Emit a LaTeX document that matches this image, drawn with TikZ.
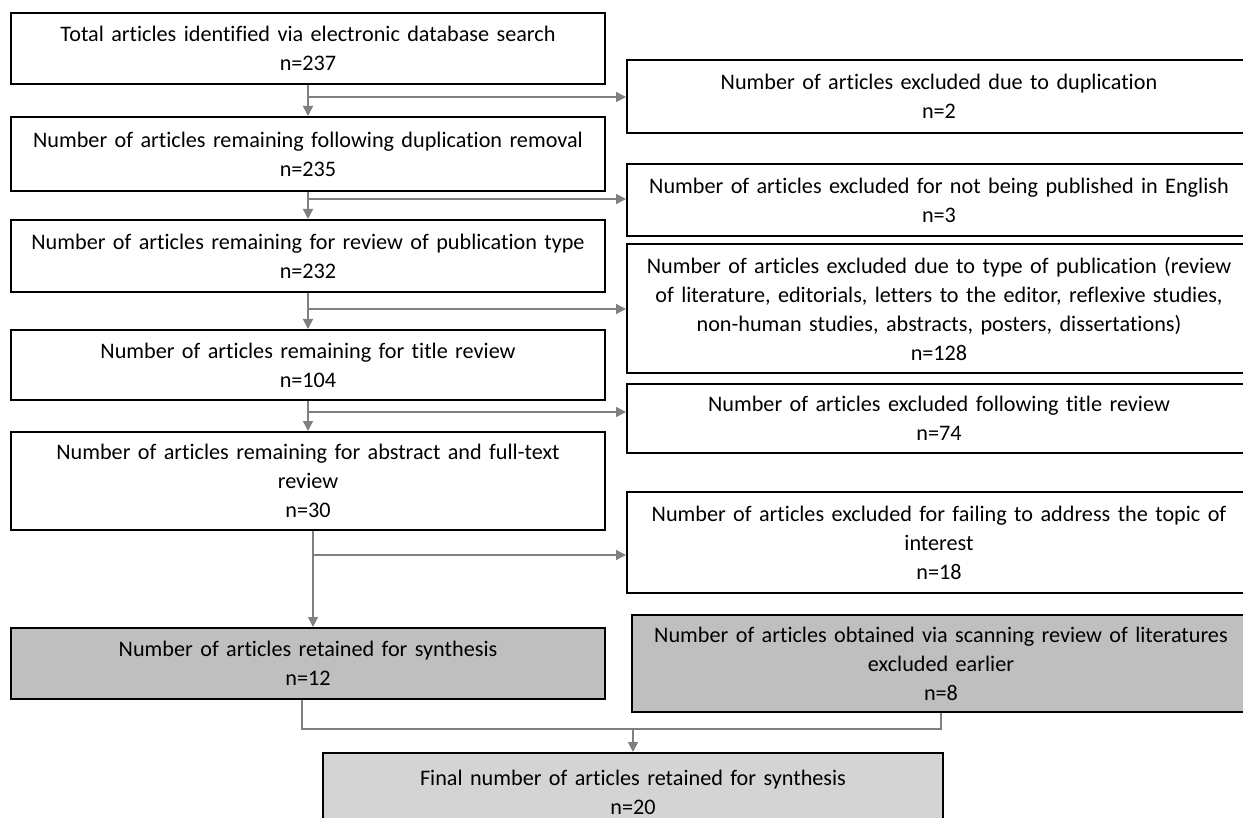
\documentclass[tikz,border=0pt]{standalone}
\usepackage{fontspec}
\setmainfont{Carlito}[Ligatures=NoCommon]
\usetikzlibrary{arrows.meta, positioning}
\definecolor{arrowgray}{RGB}{128,128,128}
\definecolor{darkfill}{RGB}{191,191,191}
\definecolor{lightfill}{RGB}{212,212,212}

\begin{document}
\begin{tikzpicture}[
    x=0.5pt, y=-0.5pt,
    box/.style={
        rectangle,
        draw=black,
        line width=1pt,
        fill=white,
        inner sep=0pt,
        minimum width=297pt,
        text width=290pt,
        align=center,
        font=\fontsize{11.1}{14.5}\selectfont
    },
    sidebox/.style={
        box,
        minimum width=312pt,
        text width=308pt
    },
    line/.style={
        draw,
        -{Triangle[length=5pt,width=5pt]},
        line width=0.75pt,
        color=arrowgray
    },
    link/.style={
        draw,
        line width=0.75pt,
        color=arrowgray
    }
]

\path [use as bounding box] (0,0) rectangle (1243,818);
\clip (0,0) rectangle (1243,818);

% Main column
\node [box, minimum height=35.5pt] (total) at (308,48.5)
    {Total articles identified via electronic database search\\ n=237};
\node [box, minimum height=37pt] (dedup) at (308,154)
    {Number of articles remaining following duplication removal\\ n=235};
\node [box, minimum height=36pt] (pubtype) at (308,256)
    {Number of articles remaining for review of publication type\\ n=232};
\node [box, minimum height=35pt] (title) at (308,365)
    {Number of articles remaining for title review\\ n=104};
\node [box, minimum height=49pt] (fulltext) at (308,481)
    {Number of articles remaining for abstract and full-text\\ review\\ n=30};
\node [box, fill=darkfill, minimum height=35.5pt] (retained) at (308,663.5)
    {Number of articles retained for synthesis\\ n=12};
\node [box, fill=lightfill, minimum width=310pt, text width=300pt, minimum height=39pt] (final) at (633,792)
    {Final number of articles retained for synthesis\\ n=20};

% Exclusions
\node [sidebox, minimum height=36.5pt] (exdup) at (939,96.5)
    {Number of articles excluded due to duplication\\ n=2};
\node [sidebox, minimum height=36pt] (exlang) at (939,200)
    {Number of articles excluded for not being published in English\\ n=3};
\node [sidebox, minimum height=64.5pt] (extype) at (939,308.5)
    {Number of articles excluded due to type of publication (review\\ of literature, editorials, letters to the editor, reflexive studies,\\ non-human studies, abstracts, posters, dissertations)\\ n=128};
\node [sidebox, minimum height=34.5pt] (extitle) at (939,418.5)
    {Number of articles excluded following title review\\ n=74};
\node [sidebox, minimum height=50.5pt] (extopic) at (939,542.5)
    {Number of articles excluded for failing to address the topic of\\ interest\\ n=18};
\node [sidebox, fill=darkfill, minimum width=309pt, minimum height=48.5pt] (scan) at (941,663.5)
    {Number of articles obtained via scanning review of literatures\\ excluded earlier\\ n=8};

% Connections
\path [line] (total) -- (dedup);
\path [line] (dedup) -- (pubtype);
\path [line] (pubtype) -- (title);
\path [line] (title) -- (fulltext);
\path [line] ([xshift=2.5pt]fulltext.south) -- ([xshift=2.5pt]retained.north);

% Branches to exclusions
\coordinate (s1) at (308,97);
\coordinate (s2) at (308,199);
\coordinate (s3) at (308,309);
\coordinate (s4) at (308,412);
\coordinate (s5) at (313,555);
\path [line] (s1) -- (s1 -| exdup.west);
\path [line] (s2) -- (s2 -| exlang.west);
\path [line] (s3) -- (s3 -| extype.west);
\path [line] (s4) -- (s4 -| extitle.west);
\path [line] (s5) -- (s5 -| extopic.west);

% Merge into final
\coordinate (merge) at (633,729);
\path [link] ([xshift=-3pt]retained.south) |- (merge) -| (scan.south);
\path [line] (merge) -- (final);

\end{tikzpicture}
\end{document}
